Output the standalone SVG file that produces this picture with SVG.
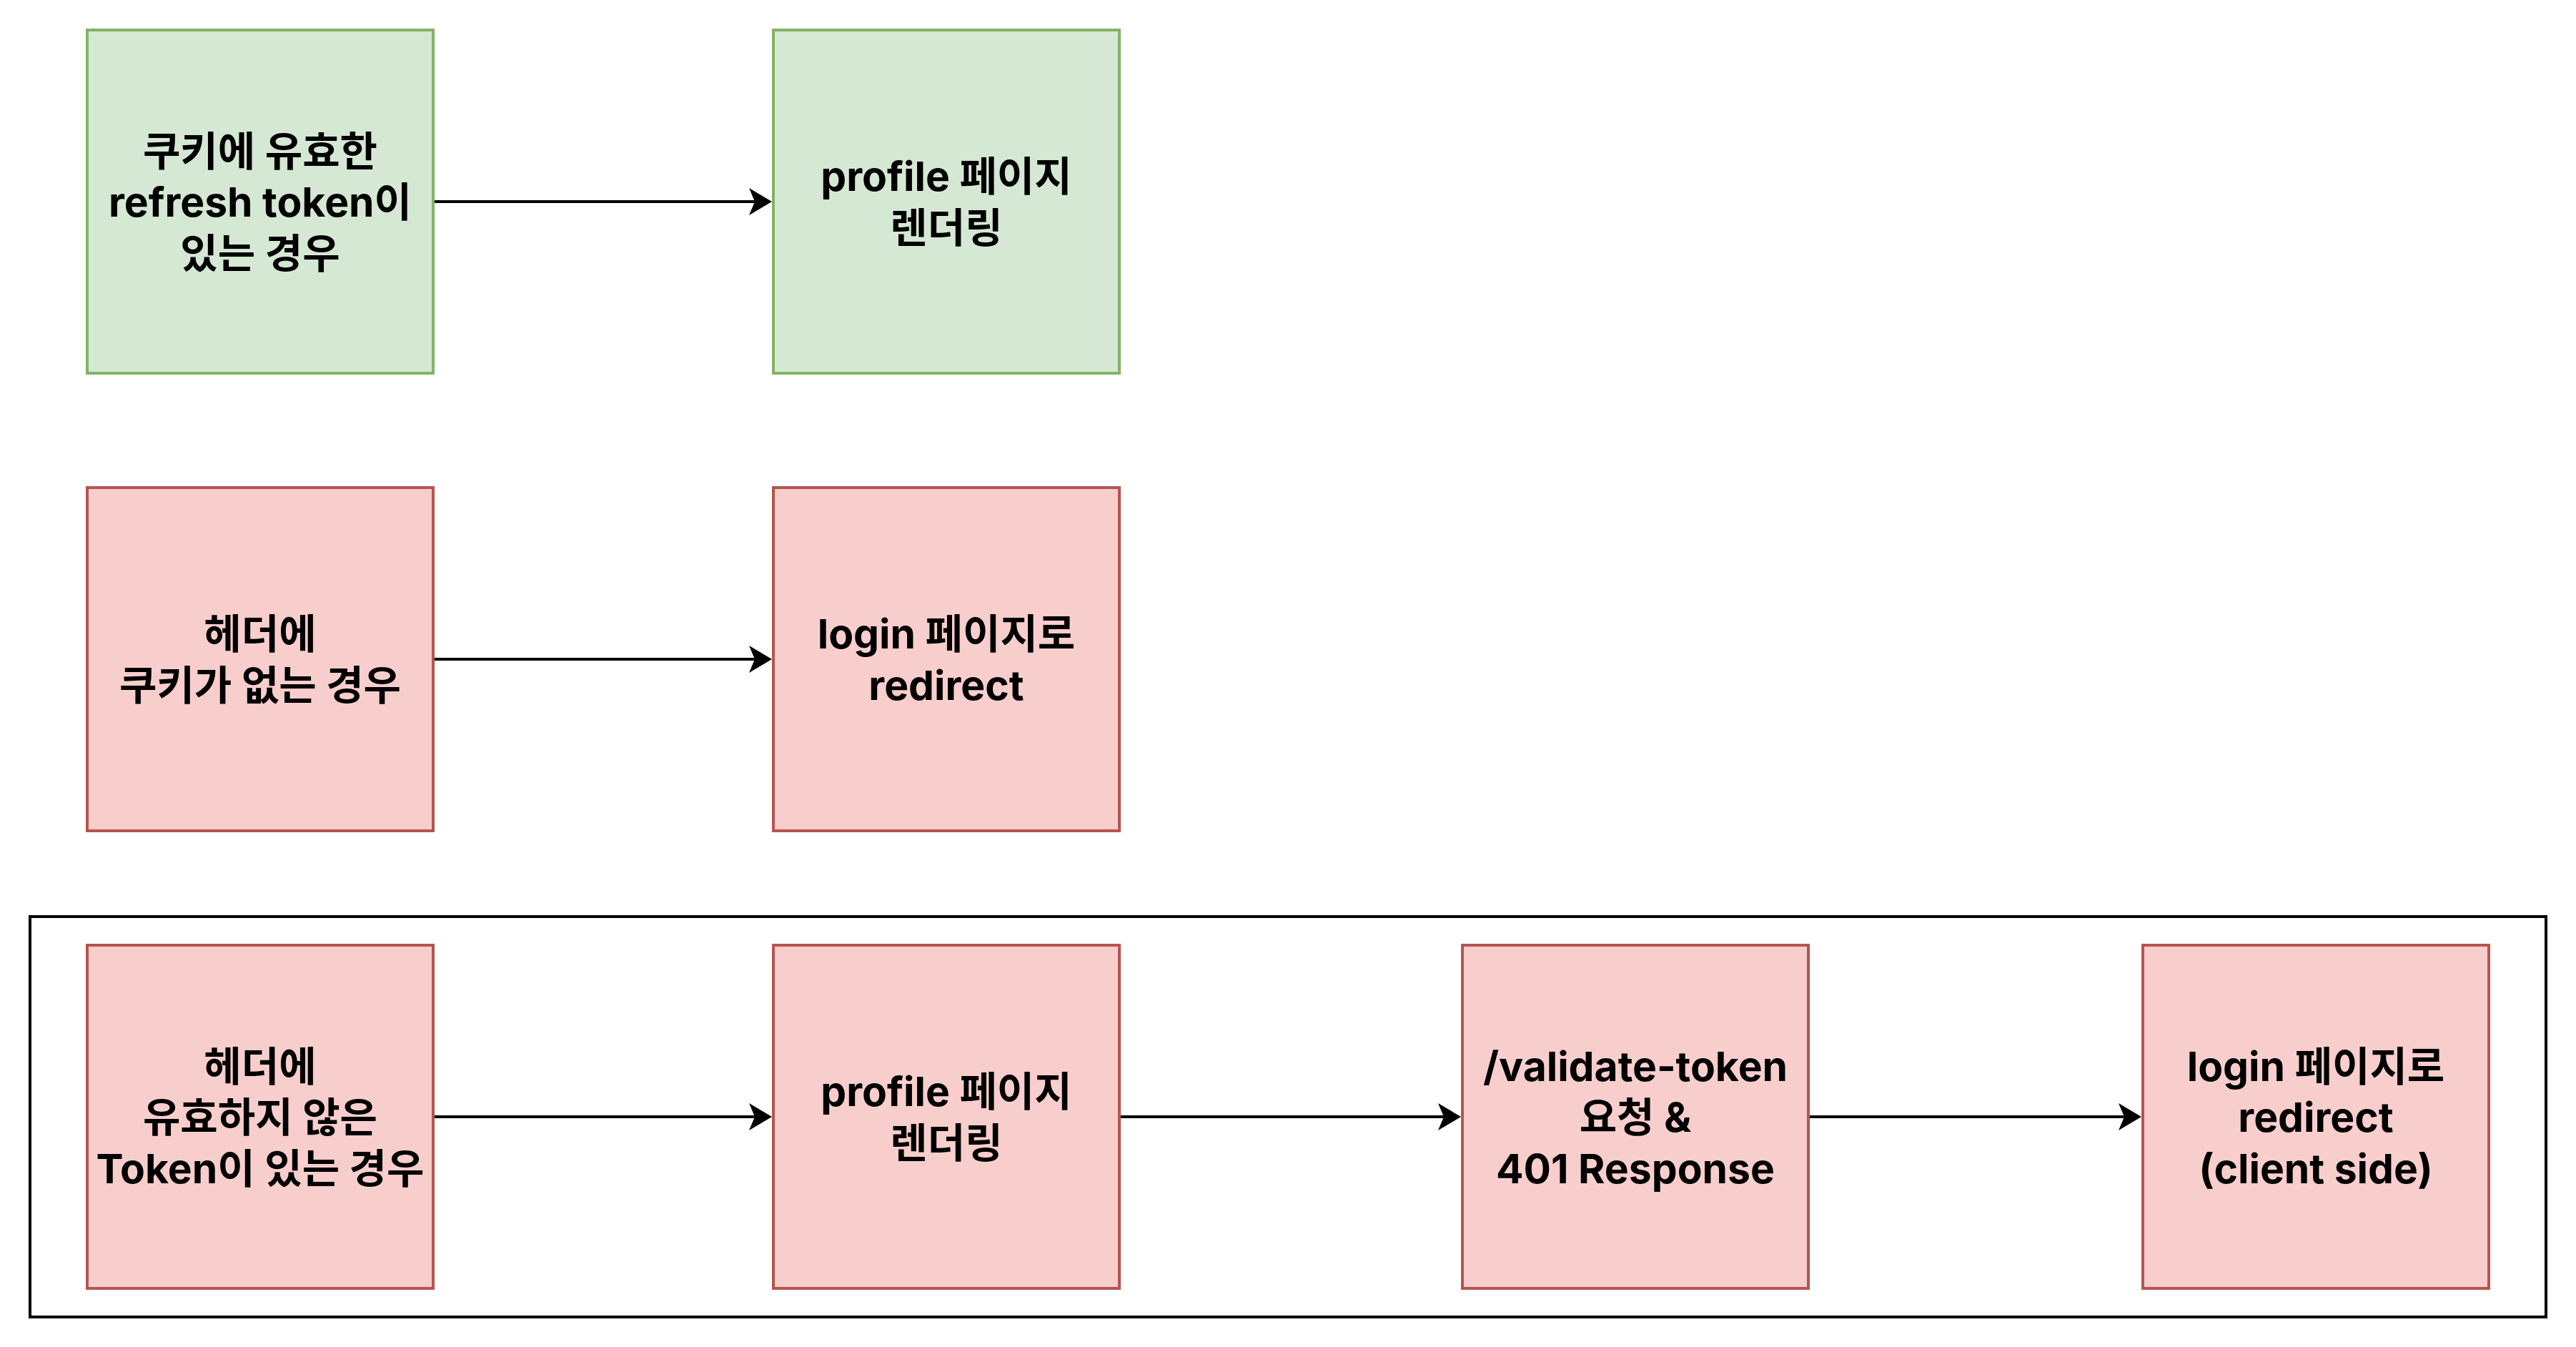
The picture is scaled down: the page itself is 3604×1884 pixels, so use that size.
<svg xmlns="http://www.w3.org/2000/svg" width="3604" height="1884" viewBox="0 0 3604 1884">
<style>
.green{fill:#d5e8d4;stroke:#82b366;stroke-width:4}
.red{fill:#f8cecc;stroke:#b85450;stroke-width:4}
.frame{fill:none;stroke:#000;stroke-width:4}
.edge{fill:none;stroke:#000;stroke-width:4}
text{font-family:"Inter","Noto Sans CJK KR",sans-serif;font-weight:bold;font-size:57px;fill:#000;text-anchor:middle}
</style>
<defs>
<marker id="arrow" markerUnits="userSpaceOnUse" markerWidth="60" markerHeight="60" refX="0" refY="0" orient="auto" overflow="visible">
<path d="M24,0 L-8,-19 L0,0 L-8,19 Z" fill="#000"/>
</marker>
</defs>
<rect width="3604" height="1884" fill="#fff"/>
<g id="container">
<rect class="frame" x="42" y="1282" width="3520" height="560"/>
</g>
<g id="connectors">
<line class="edge" x1="606" y1="282" x2="1056" y2="282" marker-end="url(#arrow)"/>
<line class="edge" x1="606" y1="922" x2="1056" y2="922" marker-end="url(#arrow)"/>
<line class="edge" x1="606" y1="1562" x2="1056" y2="1562" marker-end="url(#arrow)"/>
<line class="edge" x1="1566" y1="1562" x2="2020" y2="1562" marker-end="url(#arrow)"/>
<line class="edge" x1="2530" y1="1562" x2="2972" y2="1562" marker-end="url(#arrow)"/>
</g>
<g id="node-r1a">
<rect class="green" x="122" y="42" width="484" height="480"/>
<text x="364" y="232">쿠키에 유효한</text>
<text x="364" y="303">refresh token이</text>
<text x="364" y="375">있는 경우</text>
</g>
<g id="node-r1b">
<rect class="green" x="1082" y="42" width="484" height="480"/>
<text x="1324" y="267">profile 페이지</text>
<text x="1324" y="339">렌더링</text>
</g>
<g id="node-r2a">
<rect class="red" x="122" y="682" width="484" height="480"/>
<text x="364" y="907">헤더에</text>
<text x="364" y="979">쿠키가 없는 경우</text>
</g>
<g id="node-r2b">
<rect class="red" x="1082" y="682" width="484" height="480"/>
<text x="1324" y="907">login 페이지로</text>
<text x="1324" y="979">redirect</text>
</g>
<g id="node-r3a">
<rect class="red" x="122" y="1322" width="484" height="480"/>
<text x="364" y="1512">헤더에</text>
<text x="364" y="1583">유효하지 않은</text>
<text x="364" y="1655">Token이 있는 경우</text>
</g>
<g id="node-r3b">
<rect class="red" x="1082" y="1322" width="484" height="480"/>
<text x="1324" y="1547">profile 페이지</text>
<text x="1324" y="1619">렌더링</text>
</g>
<g id="node-r3c">
<rect class="red" x="2046" y="1322" width="484" height="480"/>
<text x="2288" y="1512">/validate-token</text>
<text x="2288" y="1583">요청 &amp;</text>
<text x="2288" y="1655">401 Response</text>
</g>
<g id="node-r3d">
<rect class="red" x="2998" y="1322" width="484" height="480"/>
<text x="3240" y="1512">login 페이지로</text>
<text x="3240" y="1583">redirect</text>
<text x="3240" y="1655">(client side)</text>
</g>
</svg>
